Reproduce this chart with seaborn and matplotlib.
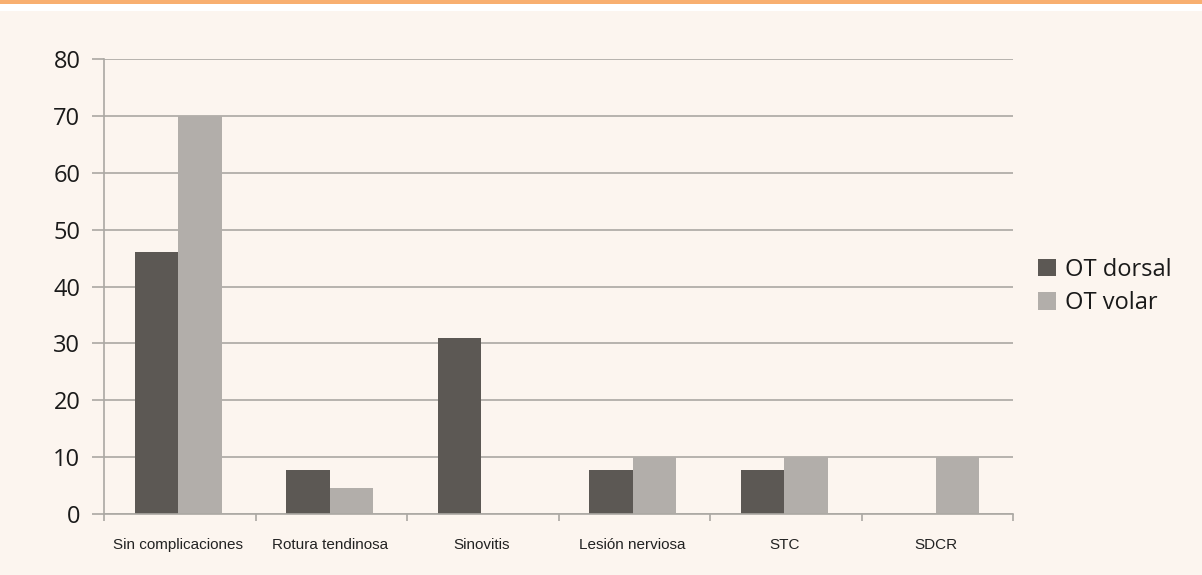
import matplotlib
matplotlib.use("Agg")
import matplotlib.pyplot as plt
import seaborn as sns
import pandas as pd
from matplotlib.patches import Rectangle

categories = ["Sin complicaciones", "Rotura tendinosa", "Sinovitis",
              "Lesión nerviosa", "STC", "SDCR"]
series_names = ["OT dorsal", "OT volar"]
dorsal = [46, 7.8, 31, 7.8, 7.8, 0]
volar = [70, 4.5, 0, 10, 10, 10]
y_ticks = [0, 10, 20, 30, 40, 50, 60, 70, 80]

df = pd.DataFrame({
    "cat": categories * 2,
    "serie": [series_names[0]] * len(categories) + [series_names[1]] * len(categories),
    "val": dorsal + volar,
})

sns.set_theme(style="white")
plt.rcParams["font.family"] = ["Open Sans", "DejaVu Sans"]

BG = "#FCF5EF"
GRID = "#ABA8A3"
fig = plt.figure(figsize=(12.02, 5.75), dpi=100)
fig.patch.set_facecolor(BG)
# top orange band and white strip
fig.patches.append(Rectangle((0, 1 - 11 / 575), 1, 11 / 575, transform=fig.transFigure,
                             facecolor="white", edgecolor="none", zorder=0))
fig.patches.append(Rectangle((0, 1 - 4 / 575), 1, 4 / 575, transform=fig.transFigure,
                             facecolor="#F8AF70", edgecolor="none", zorder=1))

ax = fig.add_axes([104 / 1202, 1 - 514 / 575, (1013 - 104) / 1202, (514 - 59) / 575])
ax.set_facecolor(BG)

sns.barplot(data=df, x="cat", y="val", hue="serie", order=categories,
            hue_order=series_names, palette=["#5C5854", "#B2AEAA"],
            width=0.576, saturation=1, ax=ax, legend=True, errorbar=None,
            linewidth=0, edgecolor="none")

ax.set_ylim(0, 80)
ax.set_xlim(-0.49, len(categories) - 0.49)
ax.set_yticks(y_ticks)
ax.set_yticklabels([str(v) for v in y_ticks], fontsize=17, color="#1A1A1A")
ax.yaxis.grid(True, color=GRID, linewidth=1.2)
ax.set_axisbelow(True)
ax.tick_params(axis="y", length=9, width=1.2, color=GRID, left=True, pad=8)

ax.set_xticks(range(len(categories)))
ax.set_xticklabels(categories, fontsize=11, color="#222222",
                   family=["Liberation Sans Narrow", "Liberation Sans", "DejaVu Sans"])
ax.set_xticks([i - 0.49 for i in range(len(categories) + 1)], minor=True)
ax.tick_params(axis="x", which="major", length=0, pad=17)
ax.tick_params(axis="x", which="minor", length=5, width=1.2, color=GRID, bottom=True, direction="out")

for s in ["top", "right"]:
    ax.spines[s].set_visible(False)
for s in ["left", "bottom"]:
    ax.spines[s].set_color(GRID)
    ax.spines[s].set_linewidth(1.2)

ax.set_xlabel("")
ax.set_ylabel("")

leg = ax.legend(loc="center left", bbox_to_anchor=(1.004, 0.50), frameon=False,
                fontsize=17, handlelength=0.75, handleheight=0.75, handletextpad=0.4,
                labelspacing=0.4)
for t in leg.get_texts():
    t.set_color("#1A1A1A")

fig.savefig("out.png", dpi=100, facecolor=BG)
